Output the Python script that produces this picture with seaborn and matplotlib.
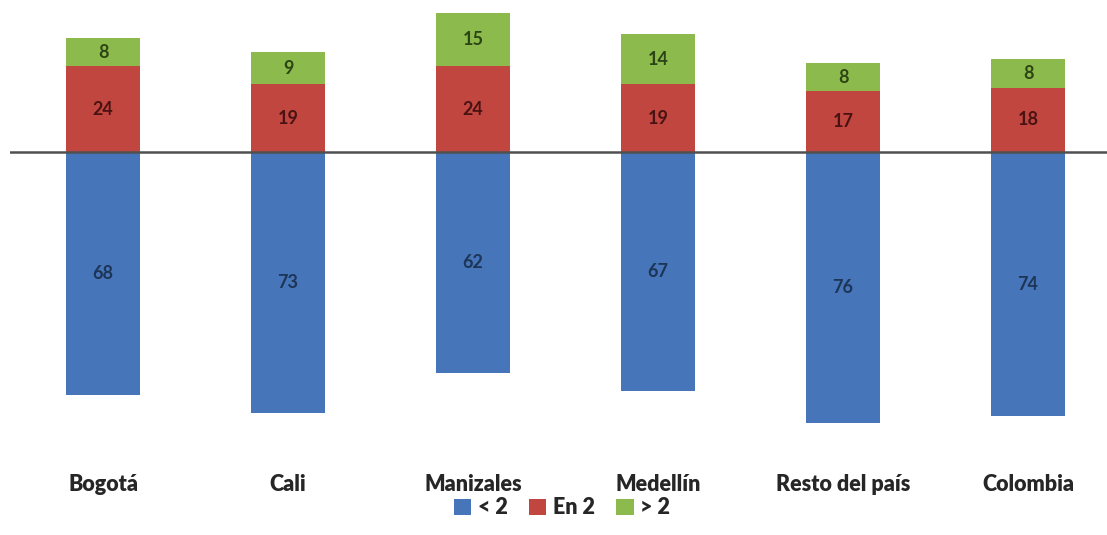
import numpy as np
import pandas as pd
import matplotlib.pyplot as plt
import seaborn as sns
from matplotlib.patches import Patch

# data
cities = ['Bogotá', 'Cali', 'Manizales', 'Medellín', 'Resto del país', 'Colombia']
menos_2 = [68, 73, 62, 67, 76, 74]
en_2 = [24, 19, 24, 19, 17, 18]
mas_2 = [8, 9, 15, 14, 8, 8]
legend_labels = ['< 2', 'En 2', '> 2']

BLUE = '#4675BA'
RED = '#C0463F'
GREEN = '#8DBA4C'

sns.set_style('white')
plt.rcParams['font.family'] = ['Lato', 'DejaVu Sans']

df = pd.DataFrame({'ciudad': cities, 'low': menos_2, 'mid': en_2, 'high': mas_2})
df['top'] = df['mid'] + df['high']
df['neg'] = -df['low']

fig = plt.figure(figsize=(11.07, 5.35), dpi=100)
ax = fig.add_axes([10 / 1107, 1 - 460 / 535, 1 - 10 / 1107, 460 / 535])

# stacked: draw totals first, then overlay lower segments
for col, c in [('top', GREEN), ('mid', RED), ('neg', BLUE)]:
    sns.barplot(data=df, x='ciudad', y=col, order=cities, color=c, width=0.4,
                saturation=1, linewidth=0, ax=ax)

ax.axhline(0, color='#505050', lw=1.8, zorder=5)

# value labels
for i, row in df.iterrows():
    ax.text(i, row['neg'] / 2, str(row['low']), ha='center', va='center',
            fontsize=13, fontweight='bold', color='#1d3557')
    ax.text(i, row['mid'] / 2, str(row['mid']), ha='center', va='center',
            fontsize=13, fontweight='bold', color='#4a1212')
    ax.text(i, row['mid'] + row['high'] / 2, str(row['high']), ha='center', va='center',
            fontsize=13, fontweight='bold', color='#2c4514')

px = 3.57
ax.set_ylim(-(460 - 152) / px, 152 / px)
ax.set_xlim(-0.503, -0.503 + 1097 / 185)
ax.set_xlabel('')
ax.set_ylabel('')
ax.set_yticks([])
ax.tick_params(axis='x', length=0, pad=10, labelsize=15.5)
for lbl in ax.get_xticklabels():
    lbl.set_fontweight('heavy')
    lbl.set_color('#262626')
sns.despine(ax=ax, left=True, bottom=True)

handles = [Patch(facecolor=c, edgecolor='none') for c in [BLUE, RED, GREEN]]
fig.legend(handles, legend_labels, loc='center', bbox_to_anchor=(562 / 1107, 1 - 508 / 535),
           ncol=3, frameon=False, handlelength=0.8, handleheight=0.8, handletextpad=0.3,
           columnspacing=1.0, prop={'weight': 'heavy', 'size': 15.5})

fig.savefig('out.png', dpi=100, facecolor='white')
